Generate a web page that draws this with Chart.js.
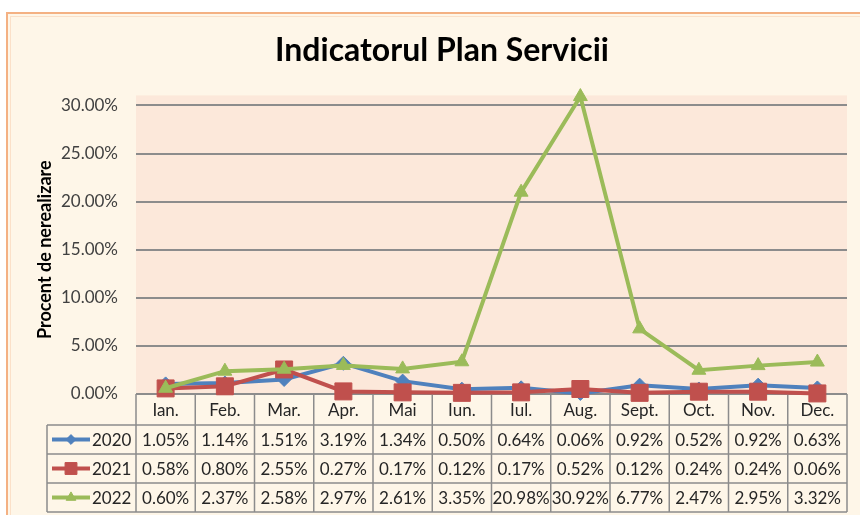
<!DOCTYPE html>
<html>
<head>
<meta charset="utf-8">
<script src="https://cdn.jsdelivr.net/npm/chart.js@4/dist/chart.umd.min.js"></script>
<style>
  html, body { margin: 0; padding: 0; background: #fff; }
  canvas { display: block; }
</style>
</head>
<body>
<canvas id="chart" width="860" height="515"></canvas>
<script>
const months = ['Ian.', 'Feb.', 'Mar.', 'Apr.', 'Mai', 'Iun.', 'Iul.', 'Aug.', 'Sept.', 'Oct.', 'Nov.', 'Dec.'];
const years = ['2020', '2021', '2022'];
const values2020 = [1.05, 1.14, 1.51, 3.19, 1.34, 0.50, 0.64, 0.06, 0.92, 0.52, 0.92, 0.63];
const values2021 = [0.58, 0.80, 2.55, 0.27, 0.17, 0.12, 0.17, 0.52, 0.12, 0.24, 0.24, 0.06];
const values2022 = [0.60, 2.37, 2.58, 2.97, 2.61, 3.35, 20.98, 30.92, 6.77, 2.47, 2.95, 3.32];

const FONT = 'Lato, "Open Sans", sans-serif';
const frameBg = '#fef6e8';
const plotBg = '#fce8da';
const tableLine = '#8c8c8c';

const series = [
    { label: years[0], data: values2020, color: '#4f81bd', style: 'rectRot', radius: 7, order: 3 },
    { label: years[1], data: values2021, color: '#c0504d', style: 'rect', radius: 12, order: 2 },
    { label: years[2], data: values2022, color: '#9bbb59', style: 'triangle', radius: 8, order: 1 }
];

// background, frame, plot area fill and the data table under the x axis
const tablePlugin = {
    id: 'dataTable',
    beforeDraw(chart) {
        const { ctx, chartArea: a } = chart;
        ctx.save();
        ctx.fillStyle = '#fff';
        ctx.fillRect(0, 0, chart.width, chart.height);
        ctx.fillStyle = frameBg;
        ctx.fillRect(7, 13, chart.width, chart.height);
        ctx.strokeStyle = '#f4b183';
        ctx.lineWidth = 2;
        ctx.strokeRect(7, 13, chart.width + 10, chart.height + 10);
        ctx.strokeStyle = '#fbe0c8';
        ctx.lineWidth = 1;
        ctx.strokeRect(10.5, 16.5, chart.width + 10, chart.height + 10);
        ctx.fillStyle = plotBg;
        ctx.fillRect(a.left, a.top - 10, a.right - a.left, a.bottom - a.top + 10);
        ctx.restore();
    },
    beforeDatasetsDraw(chart) {
        const { ctx, chartArea: a } = chart;
        const x = chart.scales.x;
        const colW = (a.right - a.left) / months.length;
        const catBottom = a.bottom + 31;
        const rowH = 29;
        const legendLeft = 47;
        const tableBottom = catBottom + rowH * series.length;

        ctx.save();
        ctx.strokeStyle = tableLine;
        ctx.lineWidth = 1.5;
        ctx.beginPath();
        ctx.moveTo(a.left, a.bottom);
        ctx.lineTo(a.right, a.bottom);
        for (let r = 0; r <= series.length; r++) {
            const y = catBottom + r * rowH;
            ctx.moveTo(legendLeft, y);
            ctx.lineTo(a.right, y);
        }
        for (let c = 0; c <= months.length; c++) {
            const xx = a.left + c * colW;
            ctx.moveTo(xx, a.bottom);
            ctx.lineTo(xx, tableBottom);
        }
        ctx.moveTo(legendLeft, catBottom);
        ctx.lineTo(legendLeft, tableBottom);
        ctx.stroke();

        ctx.font = '17px ' + FONT;
        ctx.textBaseline = 'middle';
        series.forEach((s, r) => {
            const cy = catBottom + r * rowH + rowH / 2;
            // legend key
            ctx.strokeStyle = s.color;
            ctx.fillStyle = s.color;
            ctx.lineWidth = 4;
            ctx.beginPath();
            ctx.moveTo(52, cy);
            ctx.lineTo(90, cy);
            ctx.stroke();
            ctx.lineWidth = 1;
            Chart.helpers.drawPoint(ctx, { pointStyle: s.style, radius: s.radius * 0.7, rotation: 0, borderWidth: 1 }, 71, cy);
            ctx.fillStyle = '#262626';
            ctx.textAlign = 'left';
            ctx.fillText(s.label, 92, cy + 1);
            ctx.textAlign = 'center';
            s.data.forEach((v, i) => {
                ctx.fillText(v.toFixed(2) + '%', x.getPixelForValue(i), cy + 1);
            });
        });
        ctx.restore();
    }
};

new Chart(document.getElementById('chart'), {
    type: 'line',
    data: {
        labels: months,
        datasets: series.map(s => ({
            label: s.label,
            data: s.data,
            borderColor: s.color,
            backgroundColor: s.color,
            borderWidth: 4,
            pointStyle: s.style,
            pointRadius: s.radius,
            pointBorderWidth: 1,
            tension: 0,
            order: s.order,
            clip: false
        }))
    },
    options: {
        responsive: false,
        animation: false,
        devicePixelRatio: 1,
        layout: { padding: { left: 30, right: 6, top: 0, bottom: 0 } },
        plugins: {
            legend: { display: false },
            tooltip: { enabled: false },
            title: {
                display: true,
                text: 'Indicatorul Plan Servicii',
                color: '#000',
                font: { family: FONT, size: 32, weight: 'bold' },
                padding: { top: 31, bottom: 36 }
            }
        },
        scales: {
            y: {
                min: 0,
                max: 30,
                ticks: {
                    stepSize: 5,
                    padding: 18,
                    color: '#404040',
                    font: { family: FONT, size: 17 },
                    callback: v => v.toFixed(2) + '%'
                },
                grid: { color: '#8c8c8c', lineWidth: 2, drawTicks: false },
                border: { display: false },
                title: {
                    display: true,
                    text: 'Procent de nerealizare',
                    color: '#000',
                    font: { family: FONT, size: 18, weight: 'bold' },
                    padding: { top: 4, bottom: 0 }
                },
                afterFit: scale => { scale.width = 106; }
            },
            x: {
                offset: true,
                ticks: {
                    padding: 6,
                    color: '#262626',
                    autoSkip: false,
                    maxRotation: 0,
                    font: { family: FONT, size: 17 }
                },
                grid: { display: false, drawTicks: false },
                border: { display: false },
                afterFit: scale => { scale.height = 121; }
            }
        }
    },
    plugins: [tablePlugin]
});
</script>
</body>
</html>
